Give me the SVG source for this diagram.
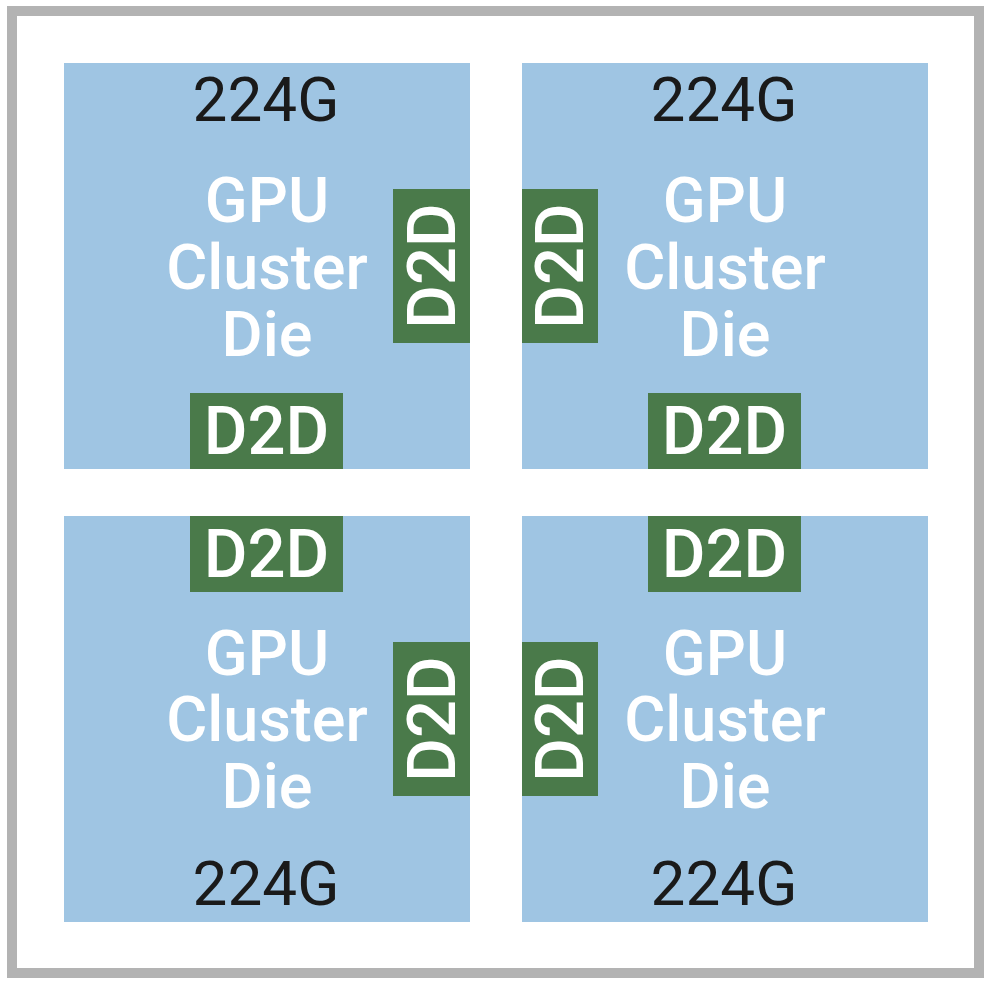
<svg xmlns="http://www.w3.org/2000/svg" width="992" height="983" viewBox="0 0 992 983">
<style>
.die{fill:#9fc5e3}
.d2d{fill:#4a7a4a}
.w{fill:#ffffff;font-family:Roboto,"Liberation Sans",sans-serif;font-weight:500;font-size:63px;text-anchor:middle}
.k{fill:#1a1a1a;font-family:Roboto,"Liberation Sans",sans-serif;font-weight:400;font-size:62px;text-anchor:middle}
.dt{fill:#ffffff;font-family:Roboto,"Liberation Sans",sans-serif;font-weight:500;font-size:67px;text-anchor:middle;dominant-baseline:central}
</style>
<rect x="0" y="0" width="992" height="983" fill="#ffffff"/>
<rect x="12" y="11" width="967" height="962" fill="#ffffff" stroke="#b3b3b3" stroke-width="10"/>
<g id="die-tl">
<rect class="die" x="64" y="63" width="406" height="406"/>
<text class="k" x="266" y="121">224G</text>
<text class="w" x="267" y="222">GPU</text>
<text class="w" x="267" y="289">Cluster</text>
<text class="w" x="267" y="356">Die</text>
<rect class="d2d" x="393" y="189" width="77" height="154"/>
<text class="dt" transform="translate(431.5 266) rotate(-90)">D2D</text>
<rect class="d2d" x="190" y="393" width="153" height="76"/>
<text class="dt" x="266.5" y="431">D2D</text>
</g>
<g id="die-tr">
<rect class="die" x="522" y="63" width="406" height="406"/>
<text class="k" x="724" y="121">224G</text>
<text class="w" x="725" y="222">GPU</text>
<text class="w" x="725" y="289">Cluster</text>
<text class="w" x="725" y="356">Die</text>
<rect class="d2d" x="522" y="189" width="76" height="154"/>
<text class="dt" transform="translate(560 266) rotate(-90)">D2D</text>
<rect class="d2d" x="648" y="393" width="153" height="76"/>
<text class="dt" x="724.5" y="431">D2D</text>
</g>
<g id="die-bl">
<rect class="die" x="64" y="516" width="406" height="406"/>
<rect class="d2d" x="190" y="516" width="153" height="76"/>
<text class="dt" x="266.5" y="554">D2D</text>
<text class="w" x="267" y="675">GPU</text>
<text class="w" x="267" y="741">Cluster</text>
<text class="w" x="267" y="808">Die</text>
<rect class="d2d" x="393" y="642" width="77" height="154"/>
<text class="dt" transform="translate(431.5 719) rotate(-90)">D2D</text>
<text class="k" x="266" y="905">224G</text>
</g>
<g id="die-br">
<rect class="die" x="522" y="516" width="406" height="406"/>
<rect class="d2d" x="648" y="516" width="153" height="76"/>
<text class="dt" x="724.5" y="554">D2D</text>
<text class="w" x="725" y="675">GPU</text>
<text class="w" x="725" y="741">Cluster</text>
<text class="w" x="725" y="808">Die</text>
<rect class="d2d" x="522" y="642" width="76" height="154"/>
<text class="dt" transform="translate(560 719) rotate(-90)">D2D</text>
<text class="k" x="724" y="905">224G</text>
</g>
<g id="connectors"/>
</svg>
